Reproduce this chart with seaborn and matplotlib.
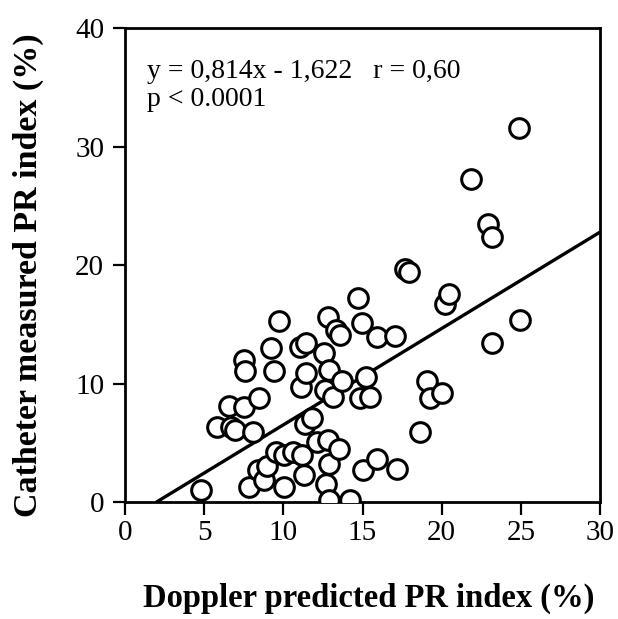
import matplotlib
matplotlib.use("Agg")
import matplotlib.pyplot as plt
import seaborn as sns
import numpy as np
import pandas as pd

doppler = [4.8, 5.8, 6.7, 6.95, 6.55, 7.5, 7.5, 7.6, 7.8, 8.1, 8.45, 8.4, 8.8, 8.95,
           9.2, 9.4, 9.75, 9.55, 10.05, 10.05, 10.6, 11.05, 11.45, 11.15, 11.1, 11.45,
           11.35, 11.3, 11.8, 12.1, 12.55, 12.65, 12.7, 12.8, 12.85, 12.9, 12.9, 12.9,
           13.15, 13.3, 13.6, 13.5, 13.7, 14.2, 14.7, 14.85, 14.95, 15.05, 15.2, 15.5,
           15.9, 15.9, 17.05, 17.15, 17.7, 17.95, 18.65, 19.05, 19.25, 20.0, 20.2, 20.45,
           21.85, 22.9, 23.15, 23.15, 24.9, 24.95]
catheter = [1.0, 6.3, 6.3, 6.1, 8.15, 8.05, 12.0, 11.1, 1.3, 5.95, 8.8, 2.7, 1.85, 3.0,
            13.0, 11.1, 15.3, 4.25, 3.95, 1.3, 4.25, 13.1, 13.4, 3.95, 9.7, 10.9,
            6.6, 2.3, 7.1, 5.1, 12.6, 9.5, 1.55, 15.6, 5.2, 3.25, 11.15, 0.2,
            8.85, 14.5, 14.1, 4.5, 10.2, 0.2, 17.2, 8.75, 15.1, 2.7, 10.6, 8.85,
            3.6, 13.9, 14.0, 2.8, 19.7, 19.45, 5.95, 10.2, 8.75, 9.2, 16.75, 17.6,
            27.3, 23.45, 22.4, 13.45, 31.6, 15.4]
slope = 0.814
intercept = -1.622
x_ticks = [0, 5, 10, 15, 20, 25, 30]
y_ticks = [0, 10, 20, 30, 40]

df = pd.DataFrame({"doppler": doppler, "catheter": catheter})
x0 = -intercept / slope
line_x = np.array([x0, 30.0])
line_df = pd.DataFrame({"x": line_x, "y": slope * line_x + intercept})

sns.set_style("ticks")
plt.rcParams["font.family"] = ["Liberation Serif", "DejaVu Serif"]
plt.rcParams["text.color"] = "black"
plt.rcParams["axes.labelcolor"] = "black"

fig = plt.figure(figsize=(6.18, 6.19), dpi=100)
ax = fig.add_axes([0.2023, 0.189, 0.7686, 0.765])

sns.lineplot(data=line_df, x="x", y="y", ax=ax, color="black", linewidth=2.4)
sns.scatterplot(data=df, x="doppler", y="catheter", ax=ax, s=200,
                facecolor="white", edgecolor="black", linewidth=2.2, zorder=3)

ax.set_xlim(0, 30)
ax.set_ylim(0, 40)
ax.set_xticks(x_ticks)
ax.set_yticks(y_ticks)
ax.tick_params(axis="both", direction="out", length=9, width=1.6,
               labelsize=21, colors="black")
ax.tick_params(axis="x", pad=4)
ax.tick_params(axis="y", pad=6)
for s in ax.spines.values():
    s.set_visible(True)
    s.set_linewidth(2.0)
    s.set_color("black")

ax.set_xlabel("Doppler predicted PR index (%)", fontsize=23.5, fontweight="bold",
              va="center", color="black")
ax.set_ylabel("Catheter measured PR index (%)", fontsize=24.5, fontweight="bold",
              va="center", color="black")
ax.xaxis.set_label_coords(0.513, -0.203)
ax.yaxis.set_label_coords(-0.204, 0.479)
ax.text(0.046, 0.935, "y = 0,814x - 1,622   r = 0,60\np < 0.0001",
        transform=ax.transAxes, fontsize=20, va="top", ha="left", linespacing=1.15,
        color="black")

fig.savefig("out.png", dpi=100)
